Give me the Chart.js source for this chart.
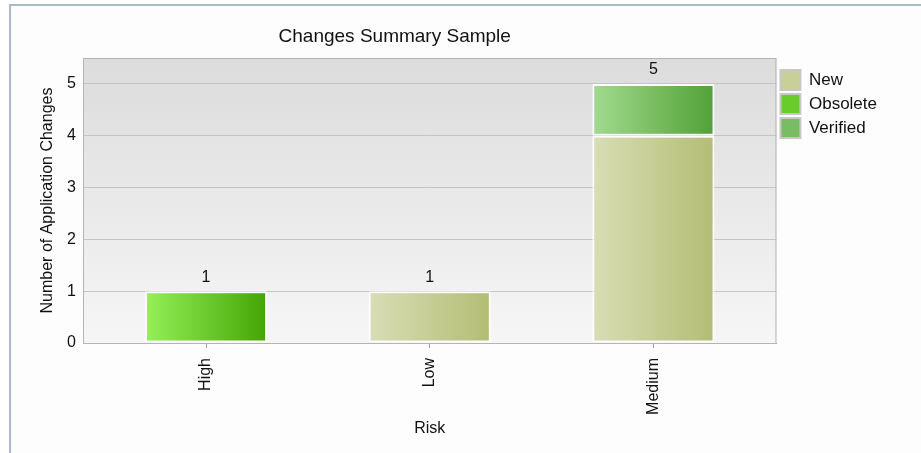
<!DOCTYPE html>
<html>
<head>
<meta charset="utf-8">
<script src="https://cdn.jsdelivr.net/npm/chart.js@4.4.0/dist/chart.umd.min.js"></script>
<style>
    body { margin: 0; background: #fff; }
    #wrap { position: relative; width: 921px; height: 453px; }
    #frame {
        position: absolute; left: 9px; top: 4px; right: 0; bottom: 0;
        border-top: 2px solid #a9b9cc; border-left: 2px solid #a9b9cc;
        background: #fdfdfd;
    }
    #myChart { position: absolute; left: 0; top: 0; }
</style>
</head>
<body>
<div id="wrap">
    <div id="frame"></div>
    <canvas id="myChart" width="921" height="453"></canvas>
</div>
<script>
var categories = ['High', 'Low', 'Medium'];
var newValues = [null, 1, 4];
var obsoleteValues = [1, null, null];
var verifiedValues = [null, null, 1];
var yTicks = [0, 1, 2, 3, 4, 5];

var FONT = "'Liberation Sans', Arial, sans-serif";
var BAR_PCT = 0.546;

// đổi mảng giá trị thành điểm {x: chỉ số nhóm, y: giá trị}
function toPoints(arr) {
    return arr.map(function (v, i) { return { x: i, y: v }; });
}

// gradient ngang cho từng cột
function barGradient(c1, c2) {
    return function (ctx) {
        var chart = ctx.chart;
        if (!chart.chartArea || ctx.dataIndex === undefined) return c2;
        var x = chart.scales.x;
        var cx = x.getPixelForValue(ctx.dataIndex);
        var w = (x.getPixelForValue(1) - x.getPixelForValue(0)) * BAR_PCT;
        var g = chart.ctx.createLinearGradient(cx - w / 2, 0, cx + w / 2, 0);
        g.addColorStop(0, c1);
        g.addColorStop(1, c2);
        return g;
    };
}

// nền vùng vẽ + khung
var plotBackground = {
    id: 'plotBackground',
    beforeDraw(chart) {
        var a = chart.chartArea, c = chart.ctx;
        var g = c.createLinearGradient(0, a.top, 0, a.bottom);
        g.addColorStop(0, '#dcdcdc');
        g.addColorStop(1, '#f6f6f6');
        c.save();
        c.fillStyle = g;
        c.fillRect(a.left, a.top, a.right - a.left, a.bottom - a.top);
        c.restore();
    },
    afterDraw(chart) {
        var a = chart.chartArea, c = chart.ctx;
        c.save();
        c.strokeStyle = '#b4b4b4';
        c.lineWidth = 1;
        c.strokeRect(a.left + 0.5, a.top + 0.5, a.right - a.left - 1, a.bottom - a.top);
        c.restore();
    }
};

// tiêu đề biểu đồ
var chartTitle = {
    id: 'chartTitle',
    afterDraw(chart) {
        var a = chart.chartArea, c = chart.ctx;
        c.save();
        c.font = '19px ' + FONT;
        c.fillStyle = '#111';
        c.textAlign = 'center';
        c.textBaseline = 'middle';
        c.fillText('Changes Summary Sample', (a.left + a.right) / 2 - 35, 37);
        c.restore();
    }
};

// tổng mỗi cột ghi phía trên
var totalLabels = {
    id: 'totalLabels',
    afterDatasetsDraw(chart) {
        var c = chart.ctx, x = chart.scales.x, y = chart.scales.y;
        c.save();
        c.font = '16px ' + FONT;
        c.fillStyle = '#111';
        c.textAlign = 'center';
        c.textBaseline = 'bottom';
        categories.forEach(function (cat, i) {
            var total = (newValues[i] || 0) + (obsoleteValues[i] || 0) + (verifiedValues[i] || 0);
            c.fillText(String(total), x.getPixelForValue(i), y.getPixelForValue(total) - 6);
        });
        c.restore();
    }
};

var data = {
    datasets: [{
        label: 'New',
        data: toPoints(newValues),
        backgroundColor: barGradient('#d9ddb6', '#b3bd74'),
        legendColor: '#c9cf98'
    }, {
        label: 'Obsolete',
        data: toPoints(obsoleteValues),
        backgroundColor: barGradient('#94f158', '#44a404'),
        legendColor: '#68cc2c'
    }, {
        label: 'Verified',
        data: toPoints(verifiedValues),
        backgroundColor: barGradient('#a2da90', '#52a136'),
        legendColor: '#78bd62'
    }]
};
data.datasets.forEach(function (ds) {
    ds.borderColor = 'rgba(255,255,255,0.9)';
    ds.borderWidth = 2;
    ds.borderSkipped = false;
    ds.barPercentage = 1;
    ds.categoryPercentage = BAR_PCT;
});

var ctx = document.getElementById('myChart').getContext('2d');
new Chart(ctx, {
    type: 'bar',
    data: data,
    plugins: [plotBackground, chartTitle, totalLabels],
    options: {
        responsive: false,
        animation: false,
        layout: { padding: { left: 12, top: 58, right: 34, bottom: 15 } },
        plugins: {
            tooltip: { enabled: false },
            legend: {
                position: 'right',
                align: 'start',
                title: { display: true, text: '', font: { size: 8, lineHeight: 1 }, padding: 0 },
                labels: {
                    boxWidth: 20,
                    boxHeight: 20,
                    padding: 4,
                    color: '#111',
                    font: { family: FONT, size: 17 },
                    generateLabels(chart) {
                        return chart.data.datasets.map(function (ds, i) {
                            return {
                                text: ds.label,
                                fillStyle: ds.legendColor,
                                strokeStyle: '#c8c8c8',
                                lineWidth: 2,
                                fontColor: '#111',
                                hidden: false,
                                datasetIndex: i
                            };
                        });
                    }
                }
            }
        },
        scales: {
            x: {
                type: 'linear',
                stacked: true,
                offset: false,
                min: -0.55,
                max: categories.length - 0.45,
                afterBuildTicks(scale) { scale.ticks = categories.map(function (c, i) { return { value: i }; }); },
                grid: { drawOnChartArea: false, offset: false, tickLength: 5, color: '#a0a0a0' },
                border: { color: '#a0a0a0' },
                ticks: {
                    color: '#111', font: { family: FONT, size: 16 }, maxRotation: 90, minRotation: 90, padding: 10,
                    callback(value) { return categories[value]; }
                },
                title: { display: true, text: 'Risk', color: '#111', font: { family: FONT, size: 16 }, padding: { top: 4, bottom: 0 } },
                afterFit(scale) { scale.height = 95; }
            },
            y: {
                stacked: true,
                min: 0,
                max: 5.5,
                afterBuildTicks(scale) { scale.ticks = yTicks.map(function (v) { return { value: v }; }); },
                grid: { color: '#c4c4c4', drawTicks: false },
                border: { color: '#a0a0a0' },
                ticks: { color: '#111', font: { family: FONT, size: 16 }, padding: 7 },
                title: { display: true, text: 'Number of Application Changes', color: '#111', font: { family: FONT, size: 16 }, padding: { top: 26, bottom: 0 } },
                afterFit(scale) { scale.width = 71; }
            }
        }
    }
});
</script>
</body>
</html>
